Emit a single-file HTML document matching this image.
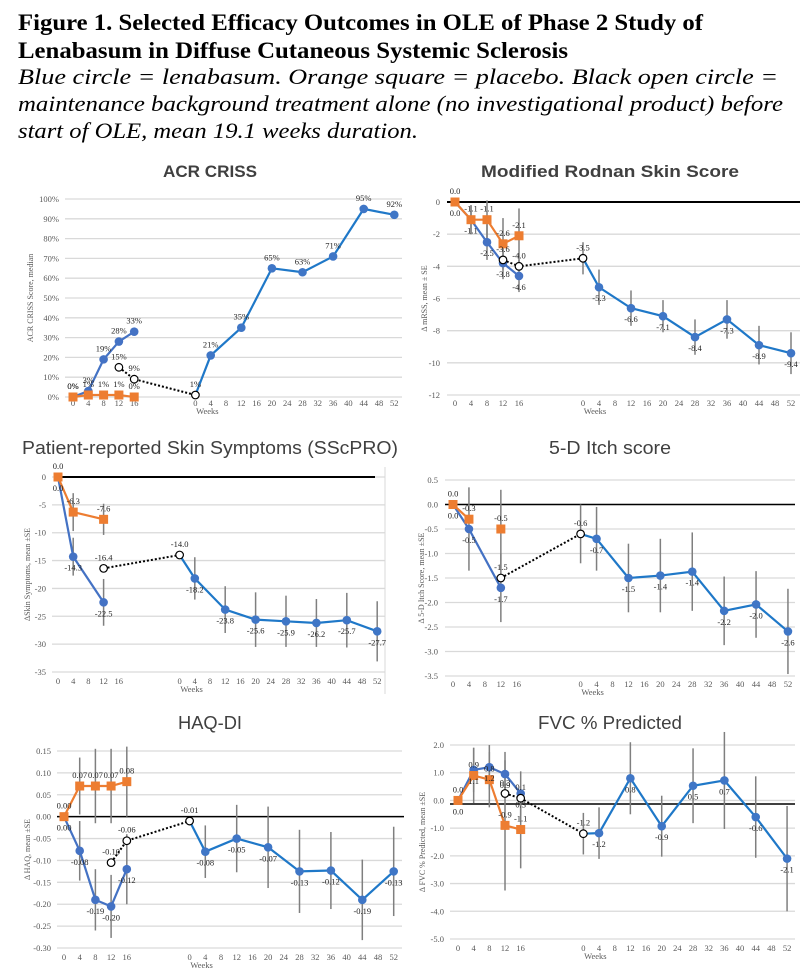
<!DOCTYPE html>
<html><head><meta charset="utf-8"><style>
html,body{margin:0;padding:0;background:#fff}
svg{display:block}
</style></head><body>
<svg id="fig" width="811" height="971" viewBox="0 0 811 971" xmlns="http://www.w3.org/2000/svg">
<g font-family="'Liberation Serif',serif" fill="#000">
<text x="18" y="30" font-size="23" font-weight="bold" textLength="685" lengthAdjust="spacingAndGlyphs">Figure 1. Selected Efficacy Outcomes in OLE of Phase 2 Study of</text>
<text x="18" y="58" font-size="23" font-weight="bold" textLength="550" lengthAdjust="spacingAndGlyphs">Lenabasum in Diffuse Cutaneous Systemic Sclerosis</text>
<text x="18" y="84" font-size="22" font-style="italic" textLength="760" lengthAdjust="spacingAndGlyphs">Blue circle = lenabasum. Orange square = placebo.  Black open circle =</text>
<text x="18" y="111" font-size="22" font-style="italic" textLength="765" lengthAdjust="spacingAndGlyphs">maintenance background treatment alone (no investigational product) before</text>
<text x="18" y="138" font-size="22" font-style="italic" textLength="400" lengthAdjust="spacingAndGlyphs">start of OLE, mean 19.1 weeks duration.</text>
</g>
</svg>
<script>
// ---------- DATA ----------
const weeksA = [0,4,8,12,16];
const weeksA3 = [0,4,12];
const weeksB = [4,12,20,28,36,44,52];
const xTickLabelsA = ["0","4","8","12","16"];
const xTickLabelsB = ["0","4","8","12","16","20","24","28","32","36","40","44","48","52"];

const acrTicks = [100,90,80,70,60,50,40,30,20,10,0];
const acrBlueA = [0,3,19,28,33];
const acrOrange = [0,1,1,1,0];
const acrOpenWeeks = [12,16];
const acrOpen = [15,9];
const acrB0 = 1;
const acrBlueB = [21,35,65,63,71,95,92];

const mrssTicks = [0,-2,-4,-6,-8,-10,-12];
const mrssBlueA = [0,-1.1,-2.5,-3.8,-4.6];
const mrssBlueAErr = [0,0.9,1.1,1.0,1.0];
const mrssOrange = [0,-1.1,-1.1,-2.6,-2.1];
const mrssOrangeErr = [0,0.9,1.2,1.6,1.7];
const mrssOpenWeeks = [12,16];
const mrssOpen = [-3.6,-4.0];
const mrssB0 = -3.5;
const mrssB0Err = 1.0;
const mrssBlueB = [-5.3,-6.6,-7.1,-8.4,-7.3,-8.9,-9.4];
const mrssBlueBErr = [1.1,1.1,1.0,1.1,1.2,1.2,1.3];

const sscTicks = [0,-5,-10,-15,-20,-25,-30,-35];
const sscBlueA = [0,-14.3,-22.5];
const sscBlueAErr = [0,3.4,4.2];
const sscOrange = [0,-6.3,-7.6];
const sscOrangeErr = [0,3.4,2.8];
const sscOpenWeeks = [12];
const sscOpen = [-16.4];
const sscB0 = -14.0;
const sscB0Err = 0;
const sscBlueB = [-18.2,-23.8,-25.6,-25.9,-26.2,-25.7,-27.7];
const sscBlueBErr = [3.8,4.2,4.9,4.6,4.3,4.9,5.4];

const itchTicks = [0.5,0,-0.5,-1,-1.5,-2,-2.5,-3,-3.5];
const itchBlueA = [0,-0.5,-1.7];
const itchBlueAErr = [0,0.85,0.7];
const itchOrange = [0,-0.3,-0.5];
const itchOrangeErr = [0,0,0.8];
const itchOpenWeeks = [12];
const itchOpen = [-1.5];
const itchB0 = -0.6;
const itchB0Err = 0.6;
const itchBlueB = [-0.7,-1.5,-1.45,-1.37,-2.17,-2.04,-2.59];
const itchBlueBErr = [0.65,0.7,0.75,0.8,0.7,0.68,0.87];

const haqTicks = [0.15,0.10,0.05,0,-0.05,-0.10,-0.15,-0.20,-0.25,-0.30];
const haqBlueA = [0,-0.078,-0.19,-0.205,-0.12];
const haqBlueAErr = [0,0.068,0.07,0.072,0.08];
const haqOrange = [0,0.07,0.07,0.07,0.08];
const haqOrangeErr = [0,0.065,0.085,0.085,0.08];
const haqOpenWeeks = [12,16];
const haqOpen = [-0.105,-0.055];
const haqB0 = -0.01;
const haqB0Err = 0;
const haqBlueB = [-0.08,-0.05,-0.07,-0.125,-0.123,-0.19,-0.125];
const haqBlueBErr = [0.06,0.077,0.093,0.095,0.088,0.092,0.102];

const fvcTicks = [2,1,0,-1,-2,-3,-4,-5];
const fvcBlueA = [0,1.1,1.2,0.95,0.25];
const fvcBlueAErr = [0,0.8,0.8,0.8,0.8];
const fvcOrange = [0,0.9,0.75,-0.9,-1.05];
const fvcOrangeErr = [0,1.0,1.0,2.35,1.4];
const fvcOpenWeeks = [12,16];
const fvcOpen = [0.25,0.08];
const fvcB0 = -1.2;
const fvcB0Err = 0.75;
const fvcBlueB = [-1.18,0.8,-0.93,0.53,0.72,-0.6,-2.1];
const fvcBlueBErr = [0.93,1.3,1.1,1.35,1.75,1.47,1.9];

// ---------- RENDER ----------
const NS = "http://www.w3.org/2000/svg";
const svg = document.getElementById('fig');
function mk(parent, tag, attrs, text){
  const e = document.createElementNS(NS, tag);
  for (const k in attrs) e.setAttribute(k, attrs[k]);
  if (text !== undefined) e.textContent = text;
  parent.appendChild(e);
  return e;
}
const SERIF = "'Liberation Serif',serif";
const SANS = "'Liberation Sans',sans-serif";
const BLUE_A = "#4472C4", BLUE_B = "#1F78C8", ORANGE = "#ED7D31", ERR = "#7f7f7f";

function panel(cfg, d){
  const g = mk(svg, 'g', {});
  
  
  const t0 = d.ticks[0], tN = d.ticks[d.ticks.length-1];
  const y = v => cfg.yTop + (t0 - v) / (t0 - tN) * (cfg.yBot - cfg.yTop);
  const xA = w => cfg.x0 + (w/4) * cfg.dx;
  const xB = w => cfg.x0 + (8 + w/4) * cfg.dx;
  const fmt = v => cfg.pct ? Math.round(v) + '%' : v.toFixed(cfg.dec);

  const title = mk(g, 'text', {x: cfg.tx, y: cfg.ty, 'text-anchor':'middle', 'font-family': SANS, 'font-size': cfg.tfs, 'font-weight': cfg.tbold ? 'bold':'normal', fill:'#404040', textLength: cfg.tlen, lengthAdjust:'spacingAndGlyphs'}, cfg.title);
  
  

  d.ticks.forEach(v => {
    const gl = mk(g, 'line', {x1: cfg.gx1, x2: cfg.gx2, y1: y(v), y2: y(v), stroke:'#d9d9d9', 'stroke-width':1.3});
    
    
    const tl = mk(g, 'text', {x: cfg.lx, y: y(v)+3, 'text-anchor':'end', 'font-family': SERIF, 'font-size': 8.5, fill:'#595959'}, cfg.pct ? v+'%' : (cfg.tickDec ? v.toFixed(cfg.tickDec) : String(v)));
    
    
  });
  if (cfg.zero !== undefined){
    const zl = mk(g, 'line', {x1: cfg.zx1, x2: cfg.zx2, y1: y(cfg.zero), y2: y(cfg.zero), stroke:'#000', 'stroke-width': cfg.zw || 1.5});
    
    
  }
  if (cfg.rightBorder){
    const rb = mk(g, 'line', {x1: cfg.gx2, x2: cfg.gx2, y1: cfg.yTop-10, y2: cfg.xly+10, stroke:'#d9d9d9', 'stroke-width':1});
    
    
  }
  xTickLabelsA.forEach(s => {
    const e = mk(g, 'text', {x: xA(+s), y: cfg.xly, 'text-anchor':'middle', 'font-family': SERIF, 'font-size': 8.5, fill:'#595959'}, s);
    
    
  });
  xTickLabelsB.forEach(s => {
    const e = mk(g, 'text', {x: xB(+s), y: cfg.xly, 'text-anchor':'middle', 'font-family': SERIF, 'font-size': 8.5, fill:'#595959'}, s);
    
    
  });
  const xt = mk(g, 'text', {x: xB(0)+12, y: cfg.xly+8, 'text-anchor':'middle', 'font-family': SERIF, 'font-size': 8.5, fill:'#595959'}, 'Weeks');
  
  
  const ym = (cfg.yTop+cfg.yBot)/2;
  const yt = mk(g, 'text', {x: cfg.ytx, y: ym, 'text-anchor':'middle', 'font-family': SERIF, 'font-size': 8, fill:'#595959', transform:`rotate(-90 ${cfg.ytx} ${ym})`}, cfg.ytitle);
  
  

  function errbars(xs, vs, es){
    if (!es) return;
    vs.forEach((v,i) => {
      if (!es[i]) return;
      const e = mk(g, 'line', {x1: xs[i], x2: xs[i], y1: y(v+es[i]), y2: y(v-es[i]), stroke: ERR, 'stroke-width':1.5});
      
      
    });
  }
  function poly(xs, vs, color, dash, n){
    const k = n || xs.length;
    const pts = xs.slice(0,k).map((x,i)=>x+','+y(vs[i])).join(' ');
    const p = mk(g, 'polyline', {points: pts, fill:'none', stroke: color, 'stroke-width': dash ? 2 : 2.2, 'stroke-dasharray': dash ? '2,2' : 'none'});
    return p;
  }
  function labels(xs, vs, dy, name){
    vs.forEach((v,i)=>{
      const e = mk(g, 'text', {x: xs[i], y: y(v)+dy, 'text-anchor':'middle', 'font-family': SERIF, 'font-size': 8.5, fill:'#262626'}, fmt(v));
      
      
    });
  }

  const wA = d.weeksA;
  const bxA = wA.map(xA), oxA = wA.map(xA);
  const openX = d.openWeeks.map(xA).concat([xB(0)]);
  const openV = d.open.concat([d.b0]);
  const bxB = [xB(0)].concat(weeksB.map(xB));
  const bvB = [d.b0].concat(d.blueB);

  errbars(bxA, d.blueA, d.blueAErr);
  errbars(oxA, d.orange, d.orangeErr);
  errbars([xB(0)], [d.b0], d.b0Err ? [d.b0Err] : null);
  errbars(weeksB.map(xB), d.blueB, d.blueBErr);

  const dl = poly(openX, openV, '#000', true);
  
  
  const la = poly(bxA, d.blueA, BLUE_A);
  
  
  const lo = poly(oxA, d.orange, ORANGE, false, cfg.orangeN);
  
  
  const lb = poly(bxB, bvB, BLUE_B);
  
  

  d.blueA.forEach((v,i)=>{
    const c = mk(g, 'circle', {cx: bxA[i], cy: y(v), r: 4.3, fill: BLUE_A});
    
    
  });
  d.orange.forEach((v,i)=>{
    const r = mk(g, 'rect', {x: oxA[i]-4.5, y: y(v)-4.5, width: 9, height: 9, fill: ORANGE});
    
    
  });
  d.blueB.forEach((v,i)=>{
    const c = mk(g, 'circle', {cx: xB(weeksB[i]), cy: y(v), r: 4.3, fill: '#3F76C6'});
    
    
  });
  openV.forEach((v,i)=>{
    const c = mk(g, 'circle', {cx: openX[i], cy: y(v), r: 3.8, fill: '#fff', stroke:'#000', 'stroke-width':1.2});
    
    
  });

  const dyB = cfg.pct ? -8 : 14;
  labels(bxA, d.blueA, dyB, 'lenabasum-value-label');
  labels(oxA, d.orange, -8, 'placebo-value-label');
  labels(openX, openV, -8, 'background-value-label');
  labels(weeksB.map(xB), d.blueB, dyB, 'lenabasum-ole-value-label');
}

panel({name:'acr-criss-chart', title:'ACR CRISS', tx:210, ty:177, tfs:17, tbold:true, tlen:94,
  yTop:199, yBot:397, x0:73, dx:15.3, gx1:65, gx2:402, lx:59, xly:406, ytx:33, pct:true, dec:0,
  ytitle:'ACR CRISS Score, median'},
  {ticks:acrTicks, weeksA:weeksA, blueA:acrBlueA, orange:acrOrange, openWeeks:acrOpenWeeks, open:acrOpen, b0:acrB0, blueB:acrBlueB});

panel({name:'mrss-chart', title:'Modified Rodnan Skin Score', tx:610, ty:177, tfs:17, tbold:true, tlen:258,
  yTop:202, yBot:395, x0:455, dx:16, gx1:447, gx2:800, lx:440, xly:406, ytx:427, dec:1, tickDec:0, zero:0, zx1:447, zx2:800, zw:2,
  ytitle:'Δ mRSS, mean ± SE'},
  {ticks:mrssTicks, weeksA:weeksA, blueA:mrssBlueA, blueAErr:mrssBlueAErr, orange:mrssOrange, orangeErr:mrssOrangeErr, openWeeks:mrssOpenWeeks, open:mrssOpen, b0:mrssB0, b0Err:mrssB0Err, blueB:mrssBlueB, blueBErr:mrssBlueBErr});

panel({name:'sscpro-chart', title:'Patient-reported Skin Symptoms (SScPRO)', tx:210, ty:454, tfs:18, tbold:false, tlen:376,
  yTop:477, yBot:672, x0:58, dx:15.2, gx1:52, gx2:385, lx:46, xly:684, ytx:30, dec:1, tickDec:0, zero:0, zx1:58, zx2:375, zw:2, rightBorder:true,
  ytitle:'ΔSkin Symptoms, mean ±SE'},
  {ticks:sscTicks, weeksA:weeksA3, blueA:sscBlueA, blueAErr:sscBlueAErr, orange:sscOrange, orangeErr:sscOrangeErr, openWeeks:sscOpenWeeks, open:sscOpen, b0:sscB0, b0Err:sscB0Err, blueB:sscBlueB, blueBErr:sscBlueBErr});

panel({name:'itch-chart', title:'5-D Itch score', tx:610, ty:454, tfs:18, tbold:false, tlen:122,
  yTop:480, yBot:676, x0:453, dx:15.95, gx1:445, gx2:795, lx:438, xly:687, ytx:424, dec:1, tickDec:1, zero:0, zx1:445, zx2:795, zw:1.5, orangeN:2,
  ytitle:'Δ 5-D Itch Score, mean ±SE'},
  {ticks:itchTicks, weeksA:weeksA3, blueA:itchBlueA, blueAErr:itchBlueAErr, orange:itchOrange, orangeErr:itchOrangeErr, openWeeks:itchOpenWeeks, open:itchOpen, b0:itchB0, b0Err:itchB0Err, blueB:itchBlueB, blueBErr:itchBlueBErr});

panel({name:'haq-di-chart', title:'HAQ-DI', tx:210, ty:729, tfs:18, tbold:false, tlen:64,
  yTop:751, yBot:948, x0:64, dx:15.7, gx1:57, gx2:402, lx:51, xly:960, ytx:30, dec:2, tickDec:2, zero:0, zx1:57, zx2:404, zw:1.5,
  ytitle:'Δ HAQ, mean ±SE'},
  {ticks:haqTicks, weeksA:weeksA, blueA:haqBlueA, blueAErr:haqBlueAErr, orange:haqOrange, orangeErr:haqOrangeErr, openWeeks:haqOpenWeeks, open:haqOpen, b0:haqB0, b0Err:haqB0Err, blueB:haqBlueB, blueBErr:haqBlueBErr});

panel({name:'fvc-chart', title:'FVC % Predicted', tx:610, ty:729, tfs:18, tbold:false, tlen:144,
  yTop:745, yBot:939, x0:458, dx:15.67, gx1:450, gx2:795, lx:444, xly:951, ytx:425, dec:1, tickDec:1, zero:-0.13, zx1:450, zx2:795, zw:1.5,
  ytitle:'Δ FVC % Predicted, mean ±SE'},
  {ticks:fvcTicks, weeksA:weeksA, blueA:fvcBlueA, blueAErr:fvcBlueAErr, orange:fvcOrange, orangeErr:fvcOrangeErr, openWeeks:fvcOpenWeeks, open:fvcOpen, b0:fvcB0, b0Err:fvcB0Err, blueB:fvcBlueB, blueBErr:fvcBlueBErr});
</script>
</body></html>
